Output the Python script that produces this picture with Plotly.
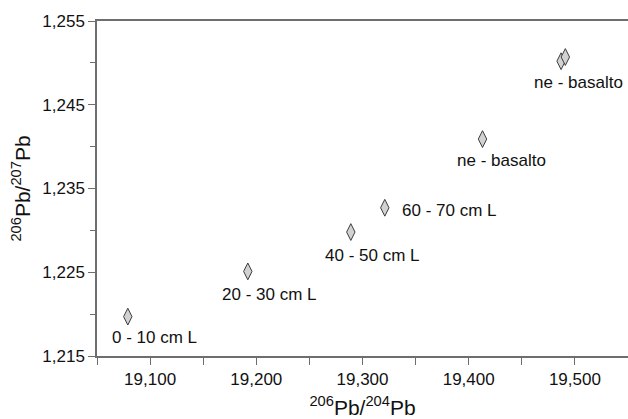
import plotly.graph_objects as go

# Data
labels = ["0 - 10 cm L", "20 - 30 cm L", "40 - 50 cm L", "60 - 70 cm L",
          "ne - basalto", "ne - basalto", ""]
pb206_204 = [19079, 19192, 19289, 19321, 19413, 19487, 19491]
pb206_207 = [1.2197, 1.2251, 1.2298, 1.2327, 1.2409, 1.2502, 1.2507]

x_ticks = [19100, 19200, 19300, 19400, 19500]
y_ticks = [1.215, 1.225, 1.235, 1.245, 1.255]

# label offsets in pixels (style)
offsets = [(27, -21), (22, -23), (22, -23), (65, -3), (19, -21), (17, -21), (0, 0)]

FONT = "Liberation Sans, Arial, sans-serif"
AXC = "#6e6e6e"

fig = go.Figure()
fig.add_trace(go.Scatter(
    x=pb206_204, y=pb206_207, mode="markers",
    marker=dict(symbol="diamond-tall", size=12, color="#d2d2d2",
                line=dict(color="#3c3c3c", width=1)),
    hoverinfo="x+y", showlegend=False,
))

for lab, x, y, (dx, dy) in zip(labels, pb206_204, pb206_207, offsets):
    if not lab:
        continue
    fig.add_annotation(x=x, y=y, text=lab, showarrow=False,
                       xanchor="center", yanchor="middle",
                       xshift=dx, yshift=dy,
                       font=dict(family=FONT, size=17, color="#111111"))

fig.update_layout(
    width=628, height=419,
    margin=dict(l=97, r=0, t=21, b=63),
    paper_bgcolor="white", plot_bgcolor="white",
    font=dict(family=FONT, color="#111111"),
)
fig.update_xaxes(
    range=[19050, 19550], tickvals=x_ticks,
    ticktext=[f"{v:,}" for v in x_ticks],
    ticks="outside", ticklen=7, tickcolor=AXC, tickwidth=1.2,
    minor=dict(dtick=50, tick0=19050, ticks="outside", ticklen=7, tickcolor=AXC, tickwidth=1.2),
    showline=True, linecolor=AXC, linewidth=1.5, mirror=True,
    showgrid=False, zeroline=False,
    tickfont=dict(family=FONT, size=17, color="#111111"),
    title=dict(text="<sup>206</sup>Pb/<sup>204</sup>Pb",
               font=dict(family=FONT, size=21, color="#111111"), standoff=12),
)
fig.update_yaxes(
    range=[1.215, 1.255], tickvals=y_ticks,
    ticktext=[f"{v:.3f}".replace(".", ",") for v in y_ticks],
    ticks="outside", ticklen=7, tickcolor=AXC, tickwidth=1.2,
    minor=dict(dtick=0.005, tick0=1.215, ticks="outside", ticklen=5, tickcolor=AXC, tickwidth=1.2),
    showline=True, linecolor=AXC, linewidth=1.5, mirror=False,
    showgrid=False, zeroline=False,
    tickfont=dict(family=FONT, size=17, color="#111111"),
    title=dict(text="<sup>206</sup>Pb/<sup>207</sup>Pb",
               font=dict(family=FONT, size=21, color="#111111"), standoff=6),
)

fig.write_html("out.html", config={"displayModeBar": False},
               post_script="document.body.style.margin='0';document.body.style.overflow='hidden';")
